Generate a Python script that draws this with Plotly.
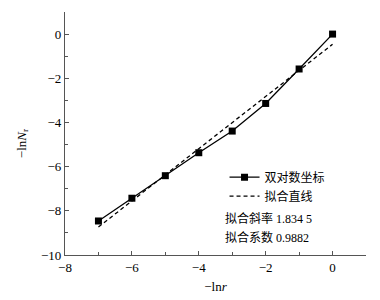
import numpy as np
import plotly.graph_objects as go

x_vals = [-7, -6, -5, -4, -3, -2, -1, 0]
y_vals = [-8.46, -7.43, -6.41, -5.37, -4.39, -3.14, -1.58, 0.0]
series_names = ["双对数坐标", "拟合直线"]
note_lines = ["拟合斜率 1.834 5", "拟合系数 0.9882"]
x_ticks = [-8, -6, -4, -2, 0]
y_ticks = [0, -2, -4, -6, -8, -10]

slope, intercept = np.polyfit(x_vals, y_vals, 1)
fit_y = [slope * v + intercept for v in x_vals]

font_family = "Liberation Serif, Noto Sans CJK SC"

fig = go.Figure()
fig.add_trace(go.Scatter(
    x=x_vals, y=y_vals, mode="lines+markers", name=series_names[0],
    line=dict(color="black", width=1.3),
    marker=dict(symbol="square", size=7, color="black"),
))
fig.add_trace(go.Scatter(
    x=x_vals, y=fit_y, mode="lines", name=series_names[1],
    line=dict(color="black", width=1.3, dash="4px,3px"),
))

for i, txt in enumerate(note_lines):
    fig.add_annotation(
        text=txt, xref="paper", yref="paper", x=0.525, y=0.152 - i * 0.08,
        xanchor="left", yanchor="middle", showarrow=False,
        font=dict(family=font_family, size=12, color="black"),
    )

fig.add_annotation(
    text="−ln<i>N</i><sub>r</sub>", xref="paper", yref="paper", x=-0.143, y=0.46,
    xanchor="center", yanchor="middle", textangle=-90, showarrow=False,
    font=dict(family=font_family, size=13, color="black"),
)

axis_common = dict(
    showline=True, linecolor="#555", linewidth=1.2, mirror=False, automargin=False,
    ticks="inside", ticklen=4, tickcolor="#555", showgrid=False, zeroline=False,
    tickfont=dict(family=font_family, size=13, color="black"),
    minor=dict(ticks="inside", ticklen=3, tickcolor="#555", dtick=1),
)

fig.update_xaxes(
    range=[-8, 1], tickvals=x_ticks, ticktext=["−8", "−6", "−4", "−2", "0"],
    title=dict(text="−ln<i>r</i>", font=dict(family=font_family, size=13, color="black"), standoff=8),
    **axis_common,
)
fig.update_yaxes(
    range=[-10, 1], tickvals=y_ticks, ticktext=["0", "−2", "−4", "−6", "−8", "−10"],
    **axis_common,
)

fig.update_layout(
    width=372, height=292,
    margin=dict(l=57, r=14, t=4, b=45),
    plot_bgcolor="white", paper_bgcolor="white",
    legend=dict(
        x=0.53, y=0.38, xanchor="left", yanchor="top",
        font=dict(family=font_family, size=12, color="black"),
        bgcolor="rgba(0,0,0,0)", itemwidth=30, tracegroupgap=0,
    ),
)

fig.write_html("out.html")
